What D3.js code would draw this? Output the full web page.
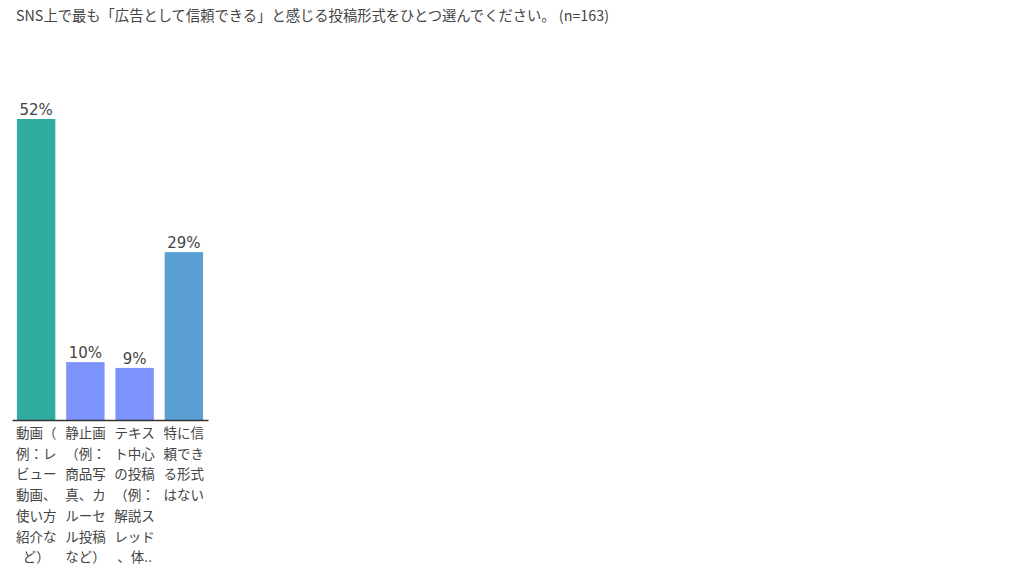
<!DOCTYPE html>
<html lang="ja">
<head>
<meta charset="UTF-8">
<title>SNS広告 投稿形式</title>
<script src="https://d3js.org/d3.v7.min.js"></script>
<style>
  body { margin: 0; background: #fff; }
  svg { display: block; }
</style>
</head>
<body>
<div id="chart"></div>
<script>
// ====== DATA ======
var titleText = "SNS上で最も「広告として信頼できる」と感じる投稿形式をひとつ選んでください。 (n=163)";
var categories = [
  "動画（例：レビュー動画、使い方紹介など）",
  "静止画（例：商品写真、カルーセル投稿など）",
  "テキスト中心の投稿（例：解説スレッド、体..",
  "特に信頼できる形式はない"
];
var percents = [52, 10, 9, 29];
var barColors = ["#2fac9f", "#7b93fb", "#7b93fb", "#599fd3"];

// ====== SETUP ======
var W = 1024, H = 579;
var svg = d3.select("#chart").append("svg")
  .attr("width", W)
  .attr("height", H);

svg.append("text")
  .attr("x", 16)
  .attr("y", 21)
  .attr("font-family", "'Noto Sans CJK JP', 'Noto Sans', sans-serif")
  .attr("font-size", 14.3)
  .attr("fill", "#444")
  .text(titleText);

var baseY = 420;

var x = d3.scaleBand()
  .domain(categories)
  .range([12, 208])
  .paddingInner(0.22)
  .paddingOuter(0.1);

var y = d3.scaleLinear()
  .domain([0, 52])
  .range([baseY, 119]);

var data = categories.map(function(c, i) { return {cat: c, val: percents[i], color: barColors[i]}; });

// bars
svg.selectAll(".bar")
  .data(data)
  .enter()
  .append("rect")
  .attr("class", "bar")
  .attr("x", function(d) { return x(d.cat); })
  .attr("width", x.bandwidth())
  .attr("y", function(d) { return y(d.val); })
  .attr("height", function(d) { return baseY - y(d.val); })
  .attr("fill", function(d) { return d.color; });

// value labels
svg.selectAll(".val")
  .data(data)
  .enter()
  .append("text")
  .attr("class", "val")
  .attr("x", function(d) { return x(d.cat) + x.bandwidth() / 2; })
  .attr("y", function(d) { return y(d.val) - 4; })
  .attr("text-anchor", "middle")
  .attr("font-family", "'DejaVu Sans', sans-serif")
  .attr("font-size", 15)
  .attr("fill", "#444")
  .text(function(d) { return d.val + "%"; });

// x axis (line only, labels wrapped below)
var xAxis = svg.append("g")
  .attr("transform", "translate(0," + baseY + ")")
  .call(d3.axisBottom(x).tickSize(0).tickPadding(0).tickFormat(""));
xAxis.select(".domain")
  .attr("stroke", "#333")
  .attr("stroke-width", 1.5);

// wrapped tick labels
var maxW = x.step() - 4;
xAxis.selectAll(".tick").each(function(cat) {
  var g = d3.select(this);
  var t = g.append("text")
    .attr("text-anchor", "middle")
    .attr("font-family", "'Noto Sans CJK JP', sans-serif")
    .attr("font-size", 13.5)
    .attr("fill", "#444");
  var chars = Array.from(cat);
  var lines = [], cur = "";
  var probe = t.append("tspan");
  chars.forEach(function(ch) {
    probe.text(cur + ch);
    if (cur && probe.node().getComputedTextLength() > maxW) {
      lines.push(cur);
      cur = ch;
    } else {
      cur += ch;
    }
  });
  if (cur) lines.push(cur);
  probe.remove();
  lines.forEach(function(line, i) {
    t.append("tspan")
      .attr("x", 0)
      .attr("y", 18 + i * 20.7)
      .text(line);
  });
});
</script>
</body>
</html>
